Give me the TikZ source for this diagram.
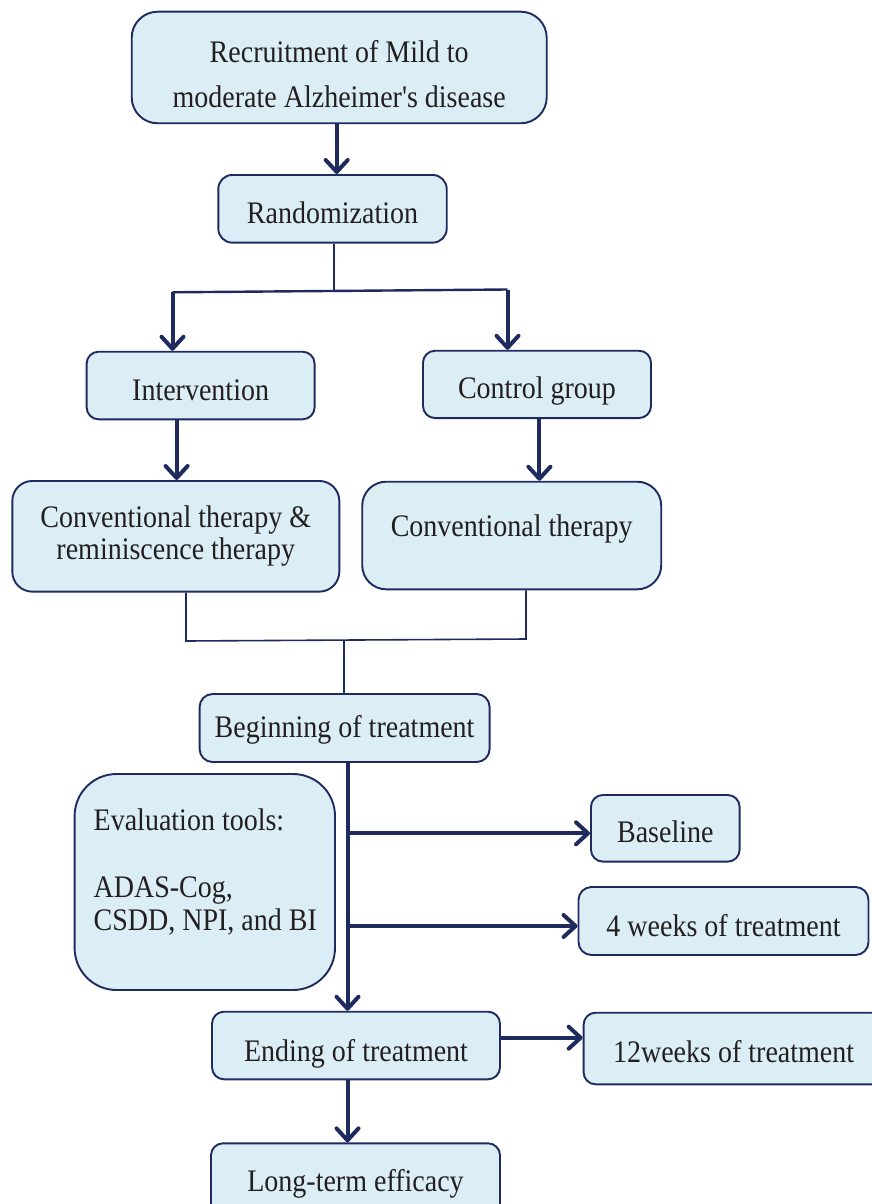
\documentclass[tikz,border=0pt]{standalone}
\usepackage{fontspec}
\usepackage{graphicx}
\setmainfont{Liberation Serif}
\usetikzlibrary{arrows.meta}
\definecolor{navy}{HTML}{1F2B5E}
\definecolor{fillb}{HTML}{DBEEF5}
\definecolor{ink}{HTML}{231F20}
\newcommand\tx[1]{\scalebox{1}[1.12]{\begin{tabular}{@{}c@{}}#1\end{tabular}}}
\newcommand\tlft[1]{\scalebox{1}[1.12]{\begin{tabular}{@{}l@{}}#1\end{tabular}}}
\begin{document}
\begin{tikzpicture}[x=1pt,y=-1pt,
  box/.style={draw=navy, line width=1.9pt, fill=fillb, inner sep=0pt},
  txt/.style={font=\fontsize{28}{30}\selectfont, text=ink, inner sep=0pt},
  arr/.style={draw=navy, line width=4pt, -{Straight Barb[length=12pt,width=22pt,round]}},
  thinline/.style={draw=navy, line width=1.6pt},
  splitline/.style={draw=navy, line width=2.4pt},
]
\clip (0,0) rectangle (872,1204);
\fill[white] (0,0) rectangle (872,1204);

\node[box, minimum width=415pt, minimum height=111.6pt, rounded corners=26pt,
  label={[txt, font=\fontsize{28}{39.3}\selectfont, yshift=-8.7pt]center:{\tx{Recruitment of Mild to\\moderate Alzheimer\textquotesingle s disease}}}] (rec) at (339.2,67.5) {};
\node[box, minimum width=228.4pt, minimum height=67.7pt, rounded corners=14pt,
  label={[txt, yshift=-8.4pt]center:{\tx{Randomization}}}] (rand) at (332.5,208.8) {};
\node[box, minimum width=228pt, minimum height=67.6pt, rounded corners=12pt,
  label={[txt, yshift=-8.4pt]center:{\tx{Intervention}}}] (int) at (200.6,385.5) {};
\node[box, minimum width=228pt, minimum height=67.3pt, rounded corners=12pt,
  label={[txt, yshift=-7.8pt]center:{\tx{Control group}}}] (ctrl) at (537,384.4) {};
\node[box, minimum width=327pt, minimum height=110.7pt, rounded corners=20pt,
  label={[txt, font=\fontsize{28}{28.5}\selectfont, yshift=-0.7pt]center:{\tx{Conventional therapy \&\\reminiscence therapy}}}] (conv1) at (175.8,536.3) {};
\node[box, minimum width=299pt, minimum height=107.6pt, rounded corners=24pt,
  label={[txt, yshift=5.8pt]center:{\tx{Conventional therapy}}}] (conv2) at (511.7,535.5) {};
\node[box, minimum width=290pt, minimum height=68pt, rounded corners=13pt,
  label={[txt, yshift=-3.2pt]center:{\tx{Beginning of treatment}}}] (begin) at (344.6,728) {};
\node[box, minimum width=260.4pt, minimum height=216pt, rounded corners=42pt,
  label={[txt, font=\fontsize{28}{29.5}\selectfont, xshift=0.5pt, yshift=8.1pt]center:{\tlft{Evaluation tools:\\ \\ADAS-Cog,\\CSDD, NPI, and BI}}}] (eval) at (204.8,882) {};
\node[box, minimum width=148.7pt, minimum height=66.7pt, rounded corners=12pt,
  label={[txt, yshift=-7.6pt]center:{\tx{Baseline}}}] (base) at (665.3,828.3) {};
\node[box, minimum width=290pt, minimum height=68pt, rounded corners=13pt,
  label={[txt, yshift=-9.2pt]center:{\tx{4 weeks of treatment}}}] (wk4) at (723.5,921) {};
\node[box, minimum width=288pt, minimum height=67.6pt, rounded corners=12pt,
  label={[txt, yshift=-9pt]center:{\tx{Ending of treatment}}}] (end) at (356,1045.5) {};
\node[box, minimum width=300pt, minimum height=71.6pt, rounded corners=12pt,
  label={[txt, yshift=-7pt]center:{\tx{12weeks of treatment}}}] (wk12) at (733.6,1048.5) {};
\node[box, minimum width=289pt, minimum height=86.4pt, rounded corners=12pt,
  label={[txt, yshift=1.3pt]center:{\tx{Long-term efficacy}}}] (long) at (355.5,1186.5) {};

% coordinates
\coordinate (xa) at (336.7,0);
\coordinate (spM) at (334,291);
\coordinate (spL) at (172.5,292.3);
\coordinate (spR) at (507.5,289.5);
\coordinate (xi) at (176.6,0);
\coordinate (xc) at (539.4,0);
\coordinate (mL) at (186,641);
\coordinate (mR) at (526,639);
\coordinate (mM) at (343.9,640);
\coordinate (vx) at (347.5,0);
\coordinate (b1) at (349,833.3);
\coordinate (b2) at (349,926);
\coordinate (b3) at (500,1037.7);

% connectors
\draw[arr] (xa |- rec.south) -- (xa |- rand.north);
\draw[thinline] (spM |- rand.south) -- (spM);
\draw[splitline] (spL) -- (spR);
\draw[arr] (spL) -- (spL |- int.north);
\draw[arr] (spR) -- (spR |- ctrl.north);
\draw[arr] (xi |- int.south) -- (xi |- conv1.north);
\draw[arr] (xc |- ctrl.south) -- (xc |- conv2.north);
\draw[thinline] (mL |- conv1.south) -- (mL) -- (mR) -- (mR |- conv2.south);
\draw[thinline] (mM) -- (mM |- begin.north);
\draw[arr] (vx |- begin.south) -- (vx |- end.north);
\draw[arr] (b1) -- (b1 -| base.west);
\draw[arr] (b2) -- (b2 -| wk4.west);
\draw[arr] (end.east |- b3) -- (b3 -| wk12.west);
\draw[arr] (vx |- end.south) -- (vx |- long.north);
\end{tikzpicture}
\end{document}
